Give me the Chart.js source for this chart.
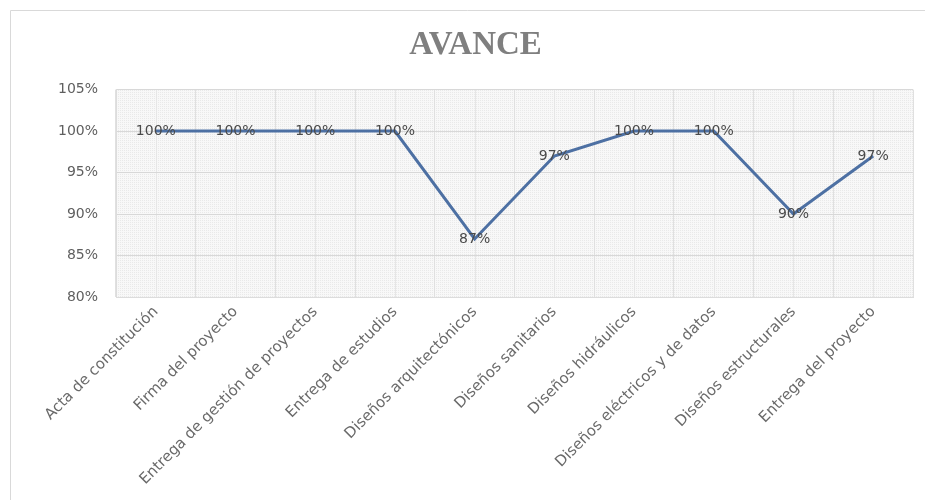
<!DOCTYPE html>
<html>
<head>
<meta charset="utf-8">
<script src="https://cdn.jsdelivr.net/npm/chart.js@4/dist/chart.umd.min.js"></script>
<style>
  html, body { margin: 0; padding: 0; background: #fff; }
  #wrap { width: 925px; height: 500px; position: relative; }
</style>
</head>
<body>
<div id="wrap"><canvas id="avance"></canvas></div>
<script>
// Data
const categories = [
  "Acta de constitución",
  "Firma del proyecto",
  "Entrega de gestión de proyectos",
  "Entrega de estudios",
  "Diseños arquitectónicos",
  "Diseños sanitarios",
  "Diseños hidráulicos",
  "Diseños eléctricos y de datos",
  "Diseños estructurales",
  "Entrega del proyecto",
];
const avance = [100, 100, 100, 100, 87, 97, 100, 100, 90, 97];
const yTicks = [80, 85, 90, 95, 100, 105];

// dithered background like the original plot area
const makePattern = (ctx) => {
  const c = document.createElement("canvas");
  c.width = 4;
  c.height = 4;
  const g = c.getContext("2d");
  g.fillStyle = "#f8f8f8";
  g.fillRect(0, 0, 4, 4);
  g.fillStyle = "#e9e9e9";
  g.fillRect(0, 0, 1, 1);
  g.fillRect(2, 2, 1, 1);
  g.fillRect(2, 0, 1, 1);
  g.fillRect(0, 2, 1, 1);
  return ctx.createPattern(c, "repeat");
};

const plotBackground = {
  id: "plotBackground",
  beforeDraw(chart) {
    const { ctx, chartArea: a } = chart;
    ctx.save();
    ctx.fillStyle = makePattern(ctx);
    ctx.fillRect(a.left, a.top, a.right - a.left, a.bottom - a.top);
    // extra vertical lines through each category centre
    const x = chart.scales.x;
    ctx.strokeStyle = "#e6e6e6";
    ctx.lineWidth = 1;
    categories.forEach((c, i) => {
      const px = Math.round(x.getPixelForValue(i)) + 0.5;
      ctx.beginPath();
      ctx.moveTo(px, a.top);
      ctx.lineTo(px, a.bottom);
      ctx.stroke();
    });
    ctx.restore();
  },
};

// outer chart border (only left and top edges show in the picture)
const frame = {
  id: "frame",
  afterDraw(chart) {
    const ctx = chart.ctx;
    ctx.save();
    ctx.strokeStyle = "#d9d9d9";
    ctx.lineWidth = 1;
    ctx.beginPath();
    ctx.moveTo(10.5, chart.height);
    ctx.lineTo(10.5, 10.5);
    ctx.lineTo(chart.width, 10.5);
    ctx.stroke();
    ctx.restore();
  },
};

// value labels centred on each point
const valueLabels = {
  id: "valueLabels",
  afterDatasetsDraw(chart) {
    const ctx = chart.ctx;
    const meta = chart.getDatasetMeta(0);
    ctx.save();
    ctx.font = "14px 'DejaVu Sans'";
    ctx.fillStyle = "#4a4a4a";
    ctx.textAlign = "center";
    ctx.textBaseline = "middle";
    meta.data.forEach((pt, i) => {
      ctx.fillText(avance[i] + "%", pt.x, pt.y);
    });
    ctx.restore();
  },
};

new Chart(document.getElementById("avance"), {
  type: "line",
  data: {
    labels: categories,
    datasets: [
      {
        label: "Avance",
        data: avance,
        borderColor: "#4d70a3",
        borderWidth: 3,
        pointRadius: 0,
        tension: 0,
        fill: false,
      },
    ],
  },
  options: {
    responsive: true,
    maintainAspectRatio: false,
    animation: false,
    layout: {
      padding: { left: 38, right: 12, top: 10, bottom: 0 },
    },
    plugins: {
      legend: { display: false },
      tooltip: { enabled: false },
      title: {
        display: true,
        text: "AVANCE",
        color: "#7f7f7f",
        font: { family: "'Liberation Serif'", size: 33, weight: "bold" },
        padding: { top: 16, bottom: 24 },
      },
    },
    scales: {
      x: {
        offset: true,
        grid: { color: "#e0e0e0", drawTicks: false, offset: true },
        border: { color: "#dcdcdc" },
        ticks: {
          autoSkip: false,
          minRotation: 45,
          maxRotation: 45,
          padding: 6,
          color: "#6a6a6a",
          font: { family: "'DejaVu Sans'", size: 15 },
        },
        afterFit: (scale) => {
          scale.height = 203;
        },
      },
      y: {
        min: 80,
        max: 105,
        afterBuildTicks: (scale) => {
          scale.ticks = yTicks.map((v) => ({ value: v }));
        },
        grid: { color: "#d8d8d8", drawTicks: false },
        border: { color: "#dcdcdc" },
        ticks: {
          padding: 18,
          color: "#5f5f5f",
          font: { family: "'DejaVu Sans'", size: 14 },
          callback: (v) => v + "%",
        },
        afterFit: (scale) => {
          scale.width = 78;
        },
      },
    },
  },
  plugins: [plotBackground, valueLabels, frame],
});
</script>
</body>
</html>
